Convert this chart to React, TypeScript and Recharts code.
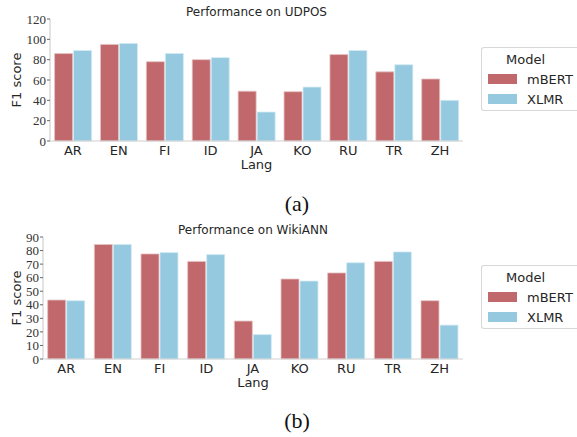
import { BarChart, Bar, XAxis, YAxis, Legend } from 'recharts';

const langs = ['AR', 'EN', 'FI', 'ID', 'JA', 'KO', 'RU', 'TR', 'ZH'];
const udposMbert = [86, 95, 78, 80, 49, 48.5, 85, 68, 61];
const udposXlmr = [89, 96, 86, 82, 28.5, 53, 89, 75, 40];
const wikiMbert = [43.5, 84.5, 77.5, 72, 28, 59, 63.5, 72, 43];
const wikiXlmr = [43, 84.5, 78.5, 77, 18, 57.5, 71, 79, 25];
const udposTicks = [0, 20, 40, 60, 80, 100, 120];
const wikiTicks = [0, 10, 20, 30, 40, 50, 60, 70, 80, 90];

const RED = '#c0686b';
const BLUE = '#94c9e0';
const SANS = '"DejaVu Sans", sans-serif';
const SERIF = '"Liberation Serif", serif';

interface ChartProps {
  title: string;
  mbert: number[];
  xlmr: number[];
  ticks: number[];
  top: number;
  yWidth: number;
}

function ModelLegend() {
  const rows = [
    { name: 'mBERT', color: RED },
    { name: 'XLMR', color: BLUE },
  ];
  return (
    <div style={{
      width: 96, height: 64, boxSizing: 'border-box', border: '1px solid #d8d8d8', borderRight: 'none',
      borderRadius: '3px 0 0 3px', background: '#fff', fontFamily: SANS, fontSize: 13, color: '#262626',
    }}>
      <div style={{ textAlign: 'center', marginTop: 2, height: 19, lineHeight: '19px', paddingRight: 8 }}>Model</div>
      {rows.map(r => (
        <div key={r.name} style={{ display: 'flex', alignItems: 'center', height: 20 }}>
          <span style={{ display: 'inline-block', width: 29, height: 10, background: r.color, marginLeft: 6 }} />
          <span style={{ marginLeft: 10 }}>{r.name}</span>
        </div>
      ))}
    </div>
  );
}

function PerfChart({ title, mbert, xlmr, ticks, top, yWidth }: ChartProps) {
  const data = langs.map((l, i) => ({ lang: l, mBERT: mbert[i], XLMR: xlmr[i] }));
  const plotLeft = yWidth;
  const plotRight = 463;
  const cx = (plotLeft + plotRight) / 2;

  return (
    <div style={{ position: 'absolute', left: 0, top, width: 577, height: 175 }}>
      <div style={{
        position: 'absolute', left: cx - 150, width: 300, top: 4, textAlign: 'center',
        fontFamily: SANS, fontSize: 12, color: '#262626', lineHeight: '16px', zIndex: 2,
      }}>{title}</div>
      <BarChart width={577} height={175} data={data}
        margin={{ top: 19, right: 577 - plotRight, left: 0, bottom: 0 }}
        barCategoryGap="10%" barGap={1}>
        <XAxis
          dataKey="lang"
          interval={0}
          height={34}
          tickLine={false}
          tickSize={0}
          tickMargin={5}
          axisLine={{ stroke: '#d0d0d0', strokeWidth: 1.2 }}
          tick={{ fill: '#262626', fontSize: 13, fontFamily: SANS }}
          label={(p: any) => {
            const vb = p.viewBox;
            return (
              <text x={vb.x + vb.width / 2} y={169} textAnchor="middle"
                fill="#262626" fontSize={13} fontFamily={SANS}>Lang</text>
            );
          }}
        />
        <YAxis
          width={yWidth}
          domain={[0, ticks[ticks.length - 1]]}
          ticks={ticks}
          interval={0}
          tickSize={3}
          tickMargin={1}
          axisLine={{ stroke: '#d0d0d0', strokeWidth: 1.2 }}
          tickLine={{ stroke: '#666' }}
          tick={{ fill: '#333', fontSize: 13, fontFamily: SERIF }}
          label={(p: any) => {
            const vb = p.viewBox;
            const x = 16;
            const y = vb.y + vb.height / 2;
            return (
              <text x={x} y={y} transform={`rotate(-90 ${x} ${y})`} textAnchor="middle"
                dominantBaseline="central" fill="#262626" fontSize={13} fontFamily={SANS}>F1 score</text>
            );
          }}
        />
        <Legend
          layout="vertical"
          align="center"
          verticalAlign="middle"
          wrapperStyle={{ position: 'absolute', left: 481, top: 47, width: 96 }}
          content={() => <ModelLegend />}
        />
        <Bar dataKey="mBERT" fill={RED} stroke="#e6c3c4" strokeWidth={0.8} isAnimationActive={false} />
        <Bar dataKey="XLMR" fill={BLUE} stroke="#d3eaf3" strokeWidth={0.8} isAnimationActive={false} />
      </BarChart>
    </div>
  );
}

export default function App() {
  const caption = (text: string, y: number) => (
    <div style={{
      position: 'absolute', left: 247, width: 100, top: y, textAlign: 'center',
      fontFamily: SERIF, fontSize: 22, lineHeight: '22px', color: '#111',
    }}>{text}</div>
  );
  return (
    <div style={{ position: 'absolute', left: 0, top: 0, width: 577, height: 437, background: '#fff', overflow: 'hidden' }}>
      <PerfChart title="Performance on UDPOS" mbert={udposMbert} xlmr={udposXlmr} ticks={udposTicks} top={0} yWidth={50} />
      <PerfChart title="Performance on WikiANN" mbert={wikiMbert} xlmr={wikiXlmr} ticks={wikiTicks} top={218} yWidth={43} />
      {caption('(a)', 193)}
      {caption('(b)', 410)}
    </div>
  );
}
